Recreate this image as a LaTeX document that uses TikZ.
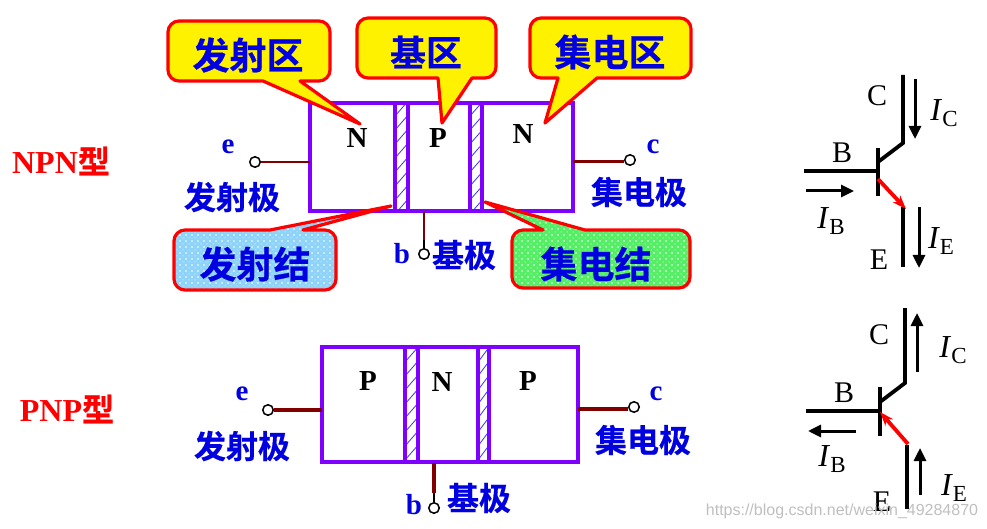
\documentclass[tikz,border=0pt]{standalone}
\usepackage{fontspec}
\setmainfont{Liberation Serif}
\newfontfamily\cjkb[BoldFont={Noto Sans CJK SC Bold},BoldFeatures={FakeBold=0.6}]{Noto Sans CJK SC}
\usetikzlibrary{arrows.meta,patterns}
\pgfdeclarepatternformonly{sdots}{\pgfqpoint{-1pt}{-1pt}}{\pgfqpoint{7pt}{7pt}}{\pgfqpoint{6pt}{6pt}}{%
  \pgfpathcircle{\pgfqpoint{0pt}{0pt}}{0.8pt}\pgfpathcircle{\pgfqpoint{3pt}{3pt}}{0.5pt}\pgfusepath{fill}}
\definecolor{vio}{HTML}{8000FF}
\definecolor{tblue}{HTML}{0000E0}
\definecolor{wire}{HTML}{800000}
\definecolor{calloutblue}{HTML}{8FD4F8}
\definecolor{calloutgreen}{HTML}{55EE66}
\tikzset{
  box/.style={draw=vio,line width=4pt},
  jline/.style={draw=vio,line width=4pt},
  hatch/.style={draw=blue!80!white,line width=0.8pt},
  call/.style={draw=red,line width=3.2pt,line join=round},
  callY/.style={call,fill=yellow},
  cjk/.style={text=tblue,inner sep=0pt,font=\cjkb\bfseries\fontsize{#1}{#1}\selectfont},
  cjk/.default=32,
  ltr/.style={text=tblue,inner sep=0pt,font=\bfseries\fontsize{#1}{#1}\selectfont},
  lay/.style={text=black,inner sep=0pt,font=\bfseries\fontsize{#1}{#1}\selectfont},
  redt/.style={text=red,inner sep=0pt,font=\fontsize{32}{32}\selectfont},
  term/.style={circle,draw=black,line width=1.5pt,fill=white,minimum size=10.5pt,inner sep=0pt},
  wirel/.style={draw=wire,line width=2.6pt},
  thinw/.style={draw=black,line width=1.5pt},
  sym/.style={draw=black,line width=3.8pt},
  cur/.style={draw=black,line width=3pt,-{Triangle[length=13pt,width=12pt]}},
  emit/.style={draw=red,line width=3.8pt,-{Stealth[length=14pt,width=10pt]}},
  slab/.style={text=black,inner sep=0pt,font=\fontsize{30}{30}\selectfont},
  ilab/.style={text=black,inner sep=0pt,font=\fontsize{32}{32}\selectfont},
}
\newcommand{\curlab}[1]{\textit{I}\raisebox{-6pt}{\fontsize{23}{23}\selectfont #1}}
\begin{document}
\begin{tikzpicture}[x=1pt,y=-1pt]
\useasboundingbox (0,0) rectangle (987,529);
% ---------- top device
\foreach \xa/\xb in {397/407,472/482}{
  \begin{scope}
    \clip (\xa,104) rectangle (\xb,210);
    \foreach \k in {0,...,10}{
      \draw[hatch] (\xa-2,116+\k*14) -- (\xb+2,100+\k*14);
    }
  \end{scope}
}
\draw[box] (310,103) rectangle (573,211);
\draw[jline] (395,103) -- (395,211);
\draw[jline] (408,103) -- (408,211);
\draw[jline] (470,103) -- (470,211);
\draw[jline] (482,103) -- (482,213);
% terminals top
\node[term] (te) at (255,162) {};
\node[term] (tb) at (424,254) {};
\node[term] (tc) at (630,160) {};
\coordinate (te2) at (310,162);
\coordinate (tb2) at (424,212);
\coordinate (tb3) at (424,240);
\coordinate (tc2) at (573,162);
\draw[wirel,line width=2.2pt] (te) -- (te2);
\draw[thinw] (tb) -- (tb3);
\draw[wirel,line width=2.4pt] (tb3) -- (tb2);
\draw[wirel,line width=3pt] (tc2) -- (tc2 -| tc.west);
% callouts top
\path[callY,rounded corners=11pt] (168,21) -- (330,21) -- (330,81) [sharp corners] -- (300,81) -- (360,124) -- (263,81) [rounded corners=11pt] -- (168,81) -- cycle;
\path[callY,rounded corners=11pt] (357,18) -- (496,18) -- (496,78) [sharp corners] -- (472,78) -- (442,123) -- (438,78) [rounded corners=11pt] -- (357,78) -- cycle;
\path[callY,rounded corners=11pt] (530,18) -- (691,18) -- (691,78) [sharp corners] -- (597,78) -- (545,123) -- (558,78) [rounded corners=11pt] -- (530,78) -- cycle;
\path[call,preaction={fill=calloutblue},pattern=sdots,pattern color=white,rounded corners=11pt] (174,230) [sharp corners] -- (270,230) -- (391,206) -- (303,230) [rounded corners=11pt] -- (336,230) -- (336,290) -- (174,290) -- cycle;
\path[call,preaction={fill=calloutgreen},pattern=sdots,pattern color=white,rounded corners=11pt] (512,230) [sharp corners] -- (543,230) -- (485,202) -- (585,230) [rounded corners=11pt] -- (690,230) -- (690,288) -- (512,288) -- cycle;
\node[cjk=37] (t1) at (248,55) {发射区};
\node[cjk=36] (t2) at (426,52) {基区};
\node[cjk=37] (t3) at (610,52) {集电区};
\node[cjk=37] (t4) at (255,264) {发射结};
\node[cjk=37] (t5) at (596,264) {集电结};
\node[cjk=32] (t6) at (232,197) {发射极};
\node[cjk=32] (t7) at (464,255) {基极};
\node[cjk=32] (t8) at (639,192) {集电极};
\node[lay=29] (n1) at (357,138) {N};
\node[lay=29] (n2) at (438,138) {P};
\node[lay=29] (n3) at (523,134) {N};
\node[ltr=29] (l1) at (228,147) {e};
\node[ltr=29] (l2) at (402,254) {b};
\node[ltr=29] (l3) at (653,147) {c};
\node[redt] (r1) at (61,161) {\textbf{NPN}{\cjkb\bfseries 型}};
% ---------- bottom device
\foreach \xa/\xb in {407/417,480/488}{
  \begin{scope}
    \clip (\xa,349) rectangle (\xb,460);
    \foreach \k in {0,...,10}{
      \draw[hatch] (\xa-2,362+\k*14) -- (\xb+2,346+\k*14);
    }
  \end{scope}
}
\draw[box] (322,347) rectangle (578,462);
\draw[jline] (405,347) -- (405,462);
\draw[jline] (418,347) -- (418,462);
\draw[jline] (478,347) -- (478,462);
\draw[jline] (489,347) -- (489,464);
\node[term] (be) at (268,410) {};
\node[term] (bb) at (434,508) {};
\node[term] (bc) at (634,407) {};
\coordinate (be2) at (322,410);
\coordinate (bb2) at (434,463);
\coordinate (bb3) at (434,493);
\coordinate (bc2) at (578,409);
\draw[wirel,line width=3.4pt] (be) -- (be2);
\draw[thinw] (bb) -- (bb3);
\draw[wirel,line width=3.6pt] (bb3) -- (bb2);
\draw[wirel,line width=3.4pt] (bc2) -- (bc2 -| bc.west);
\node[cjk=32] (b6) at (242,446) {发射极};
\node[cjk=32] (b7) at (479,498) {基极};
\node[cjk=32] (b8) at (643,440) {集电极};
\node[lay=29] (m1) at (368,381) {P};
\node[lay=29] (m2) at (442,382) {N};
\node[lay=29] (m3) at (528,381) {P};
\node[ltr=29] (k1) at (242,394) {e};
\node[ltr=29] (k2) at (414,505) {b};
\node[ltr=29] (k3) at (656,394) {c};
\node[redt] (r2) at (67,409) {\textbf{PNP}{\cjkb\bfseries 型}};
% ---------- NPN symbol
\coordinate (nC1) at (903,75); \coordinate (nC2) at (903,143);
\coordinate (nBt) at (878,148); \coordinate (nBb) at (878,196);
\coordinate (nD) at (878,162); \coordinate (nW) at (804,171); \coordinate (nW2) at (878,171);
\coordinate (nR1) at (878,179); \coordinate (nR2) at (906,209);
\coordinate (nE1) at (903,207); \coordinate (nE2) at (903,267);
\draw[sym] (nC1) -- (nC2) -- (nD);
\draw[sym] (nBt) -- (nBb);
\draw[sym] (nW) -- (nW2);
\draw[sym] (nE1) -- (nE2);
\draw[emit] (nR1) -- (nR2);
\coordinate (a1) at (915,79); \coordinate (a2) at (915,139);
\coordinate (a3) at (919,207); \coordinate (a4) at (919,268);
\coordinate (a5) at (806,191); \coordinate (a6) at (854,191);
\draw[cur] (a1) -- (a2); \draw[cur] (a3) -- (a4); \draw[cur] (a5) -- (a6);
\node[slab] (s1) at (877,96) {C};
\node[slab] (s2) at (842,153) {B};
\node[slab] (s3) at (879,260) {E};
\node[ilab] (s4) at (944,113) {\curlab{C}};
\node[ilab] (s5) at (831,221) {\curlab{B}};
\node[ilab] (s6) at (941,241) {\curlab{E}};
% ---------- PNP symbol
\coordinate (pC1) at (905,308); \coordinate (pC2) at (905,383);
\coordinate (pBt) at (880,387); \coordinate (pBb) at (880,436);
\coordinate (pD) at (880,402); \coordinate (pW) at (806,411); \coordinate (pW2) at (880,411);
\coordinate (pR1) at (908,444); \coordinate (pR2) at (880,412);
\coordinate (pE1) at (907,445); \coordinate (pE2) at (907,509);
\draw[sym] (pC1) -- (pC2) -- (pD);
\draw[sym] (pBt) -- (pBb);
\draw[sym] (pW) -- (pW2);
\draw[sym] (pE1) -- (pE2);
\draw[emit] (pR1) -- (pR2);
\coordinate (c1) at (917,372); \coordinate (c2) at (917,313);
\coordinate (c3) at (920,495); \coordinate (c4) at (920,448);
\coordinate (c5) at (856,431); \coordinate (c6) at (808,431);
\draw[cur] (c1) -- (c2); \draw[cur] (c3) -- (c4); \draw[cur] (c5) -- (c6);
\node[slab] (q1) at (879,335) {C};
\node[slab] (q2) at (844,393) {B};
\node[slab] (q3) at (882,502) {E};
\node[ilab] (q4) at (953,350) {\curlab{C}};
\node[ilab] (q5) at (832,459) {\curlab{B}};
\node[ilab] (q6) at (954,488) {\curlab{E}};
\node[text=black!25,inner sep=0pt,font=\fontspec{Liberation Sans}\fontsize{16}{16}\selectfont] (wm) at (842,511) {https://blog.csdn.net/weixin\_49284870};
\end{tikzpicture}
\end{document}
